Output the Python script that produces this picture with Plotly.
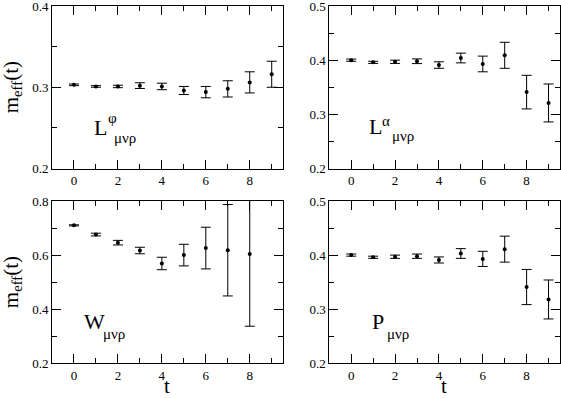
import plotly.graph_objects as go
from plotly.subplots import make_subplots

t = [0, 1, 2, 3, 4, 5, 6, 7, 8, 9]

# L^phi
l_phi = [0.303, 0.301, 0.301, 0.302, 0.301, 0.296, 0.294, 0.298, 0.306, 0.316]
l_phi_err = [0.001, 0.001, 0.0015, 0.0035, 0.004, 0.005, 0.007, 0.010, 0.013, 0.016]

# L^alpha
l_alpha = [0.400, 0.396, 0.397, 0.398, 0.391, 0.404, 0.393, 0.409, 0.341, 0.321]
l_alpha_err = [0.002, 0.002, 0.003, 0.0043, 0.006, 0.009, 0.0145, 0.024, 0.031, 0.035]

# W (no point at t=9)
t_w = [0, 1, 2, 3, 4, 5, 6, 7, 8]
w = [0.710, 0.676, 0.646, 0.617, 0.569, 0.600, 0.626, 0.618, 0.604]
w_err = [0.002, 0.005, 0.0085, 0.012, 0.023, 0.040, 0.077, 0.169, 0.267]

# P
p = [0.400, 0.396, 0.397, 0.398, 0.391, 0.403, 0.393, 0.411, 0.341, 0.318]
p_err = [0.002, 0.002, 0.003, 0.004, 0.0056, 0.009, 0.014, 0.024, 0.0325, 0.036]

# tick positions
x_major = [0, 2, 4, 6, 8]
x_minor = [-1, 1, 3, 5, 7, 9]
y_major_a = [0.2, 0.3, 0.4]
y_minor_a = [0.25, 0.35]
y_major_b = [0.2, 0.3, 0.4, 0.5]
y_minor_b = [0.25, 0.35, 0.45]
y_major_w = [0.2, 0.4, 0.6, 0.8]
y_minor_w = [0.3, 0.5, 0.7]

panels = [
    (1, 1, t, l_phi, l_phi_err, [0.19999, 0.40001], y_major_a, y_minor_a),
    (1, 2, t, l_alpha, l_alpha_err, [0.19999, 0.50001], y_major_b, y_minor_b),
    (2, 1, t_w, w, w_err, [0.19999, 0.80001], y_major_w, y_minor_w),
    (2, 2, t, p, p_err, [0.19999, 0.50001], y_major_b, y_minor_b),
]

serif = "Times New Roman, Liberation Serif, Tinos, DejaVu Serif, serif"

fig = make_subplots(rows=2, cols=2)

for r, c, xs, ys, es, yr, ymaj, ymin in panels:
    fig.add_trace(
        go.Scatter(
            x=xs, y=ys, mode="markers",
            marker=dict(color="black", size=4),
            error_y=dict(type="data", array=es, color="black", thickness=1, width=5),
            showlegend=False,
        ),
        row=r, col=c,
    )
    axis_common = dict(
        showline=True, linecolor="black", linewidth=1, mirror="allticks",
        ticks="inside", ticklen=9, tickwidth=1, tickcolor="black",
        showgrid=False, zeroline=False, automargin=False,
        ticklabeloverflow="allow",
        tickfont=dict(family=serif, size=13, color="black"),
    )
    fig.update_xaxes(
        range=[-1, 9.5], tickmode="array", tickvals=x_major,
        minor=dict(ticks="inside", ticklen=5, tickmode="array", tickvals=x_minor,
                   tickcolor="black", showgrid=False),
        row=r, col=c, **axis_common,
    )
    fig.update_yaxes(
        range=yr, tickmode="array", tickvals=ymaj,
        minor=dict(ticks="inside", ticklen=5, tickmode="array", tickvals=ymin,
                   tickcolor="black", showgrid=False),
        row=r, col=c, **axis_common,
    )

W, H = 561, 398
xdom = [[52 / W, 282.7 / W], [329.3 / W, 559.5 / W]]
ydom = [[1 - 168.5 / H, 1 - 6 / H], [1 - 363.3 / H, 1 - 201 / H]]

fig.update_layout(
    xaxis=dict(domain=xdom[0]), xaxis2=dict(domain=xdom[1]),
    xaxis3=dict(domain=xdom[0]), xaxis4=dict(domain=xdom[1]),
    yaxis=dict(domain=ydom[0]), yaxis2=dict(domain=ydom[0]),
    yaxis3=dict(domain=ydom[1]), yaxis4=dict(domain=ydom[1]),
)

# panel labels: (axes, letter, superscript, letter pos, sup pos, sub pos) in axis-domain fractions
labels = [
    ("x", "y", "L", "\u03c6", (0.175, 0.25), (0.232, 0.31), (0.258, 0.19)),
    ("x2", "y2", "L", "\u03b1", (0.165, 0.26), (0.222, 0.29), (0.265, 0.20)),
    ("x3", "y3", "W", "", (0.128, 0.26), None, (0.212, 0.18)),
    ("x4", "y4", "P", "", (0.175, 0.26), None, (0.24, 0.18)),
]
for xa, ya, letter, sup, pl, ps, pb in labels:
    fig.add_annotation(
        x=pl[0], y=pl[1], xref=f"{xa} domain", yref=f"{ya} domain",
        text=letter, showarrow=False, xanchor="left", yanchor="middle",
        font=dict(family=serif, size=22, color="black"),
    )
    if sup:
        fig.add_annotation(
            x=ps[0], y=ps[1], xref=f"{xa} domain", yref=f"{ya} domain",
            text=sup, showarrow=False, xanchor="left", yanchor="middle",
            font=dict(family=serif, size=15, color="black"),
        )
    fig.add_annotation(
        x=pb[0], y=pb[1], xref=f"{xa} domain", yref=f"{ya} domain",
        text="\u03bc\u03bd\u03c1", showarrow=False, xanchor="left", yanchor="middle",
        font=dict(family=serif, size=15, color="black"),
    )

# axis titles
for yc in [(ydom[0][0] + ydom[0][1]) / 2, (ydom[1][0] + ydom[1][1]) / 2]:
    fig.add_annotation(
        x=12 / W, y=yc, xref="paper", yref="paper",
        text="m<sub>eff</sub>(t)", showarrow=False, textangle=-90,
        xanchor="center", yanchor="middle",
        font=dict(family=serif, size=21, color="black"),
    )
for xd in xdom:
    fig.add_annotation(
        x=(xd[0] + xd[1]) / 2, y=1 - 386 / H, xref="paper", yref="paper",
        text="t", showarrow=False, xanchor="center", yanchor="middle",
        font=dict(family=serif, size=21, color="black"),
    )

fig.update_layout(
    width=W, height=H,
    margin=dict(l=0, r=0, t=0, b=0),
    font=dict(family=serif, color="black"),
    paper_bgcolor="white", plot_bgcolor="white",
)

fig.write_html(
    "out.html",
    config={"displayModeBar": False},
    post_script="document.body.style.margin='0';document.body.style.overflow='hidden';",
)
